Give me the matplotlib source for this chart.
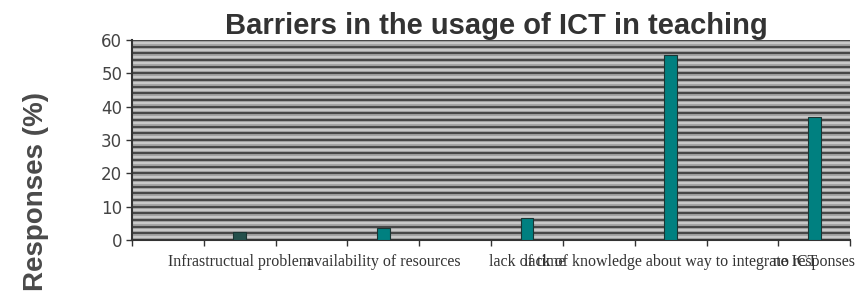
import numpy as np
import matplotlib
matplotlib.use('Agg')
import matplotlib.pyplot as plt

# data (every other category slot is empty)
categories = ['Infrastructual problem', 'availability of resources', 'lack of time',
              'lack of knowledge about way to integrate ICT', 'no responses']
responses = [2.5, 3.5, 6.5, 55.5, 37]
bar_colors = ['#24504c', '#008080', '#008080', '#008080', '#008080']
y_ticks = [0, 10, 20, 30, 40, 50, 60]

n_slots = 2 * len(categories)
pos = np.arange(len(categories)) * 2 + 1.5

fig = plt.figure(figsize=(8.57, 2.98), dpi=100)
ax = fig.add_axes([0.154, 0.195, 0.838, 0.671])

# striped plot area, like the excel pattern fill
ax.set_facecolor('#a0a0a0')
for k in np.arange(0, 61, 1):
    if k % 2 == 0:
        ax.axhline(k, color='#474747', lw=1.5, zorder=0)
    else:
        ax.axhline(k, color='#c8c8c8', lw=1.6, zorder=0)

ax.bar(pos, responses, width=0.18, color=bar_colors, edgecolor='#1a3533', lw=0.8, zorder=3)

ax.set_xlim(0, n_slots)
ax.set_ylim(0, 60)
ax.set_yticks(y_ticks)
ax.tick_params(axis='y', labelsize=12, labelcolor='#444444', length=4, width=1, color='#333333', pad=3)

ax.set_xticks(np.arange(0, n_slots + 1))
ax.set_xticklabels([])
ax.tick_params(axis='x', which='major', length=4, width=1, color='#333333')
ax.set_xticks(pos, minor=True)
ax.set_xticklabels(categories, minor=True, family='Liberation Serif', fontsize=11.5, color='#333333')
ax.tick_params(axis='x', which='minor', length=0, pad=10)

for s in ['top', 'right']:
    ax.spines[s].set_visible(False)
ax.spines['left'].set_color('#333333')
ax.spines['bottom'].set_color('#333333')
ax.spines['left'].set_linewidth(1.5)
ax.spines['bottom'].set_linewidth(1.5)

fig.text(0.579, 0.913, 'Barriers in the usage of ICT in teaching', ha='center', va='center',
         family='Liberation Sans', fontweight='bold', fontsize=21, color='#333333')
fig.text(0.042, 0.357, 'Responses (%)', rotation=90, ha='center', va='center',
         family='Liberation Sans', fontweight='bold', fontsize=20, color='#4a4a4a')

fig.savefig('out.png', dpi=100)
